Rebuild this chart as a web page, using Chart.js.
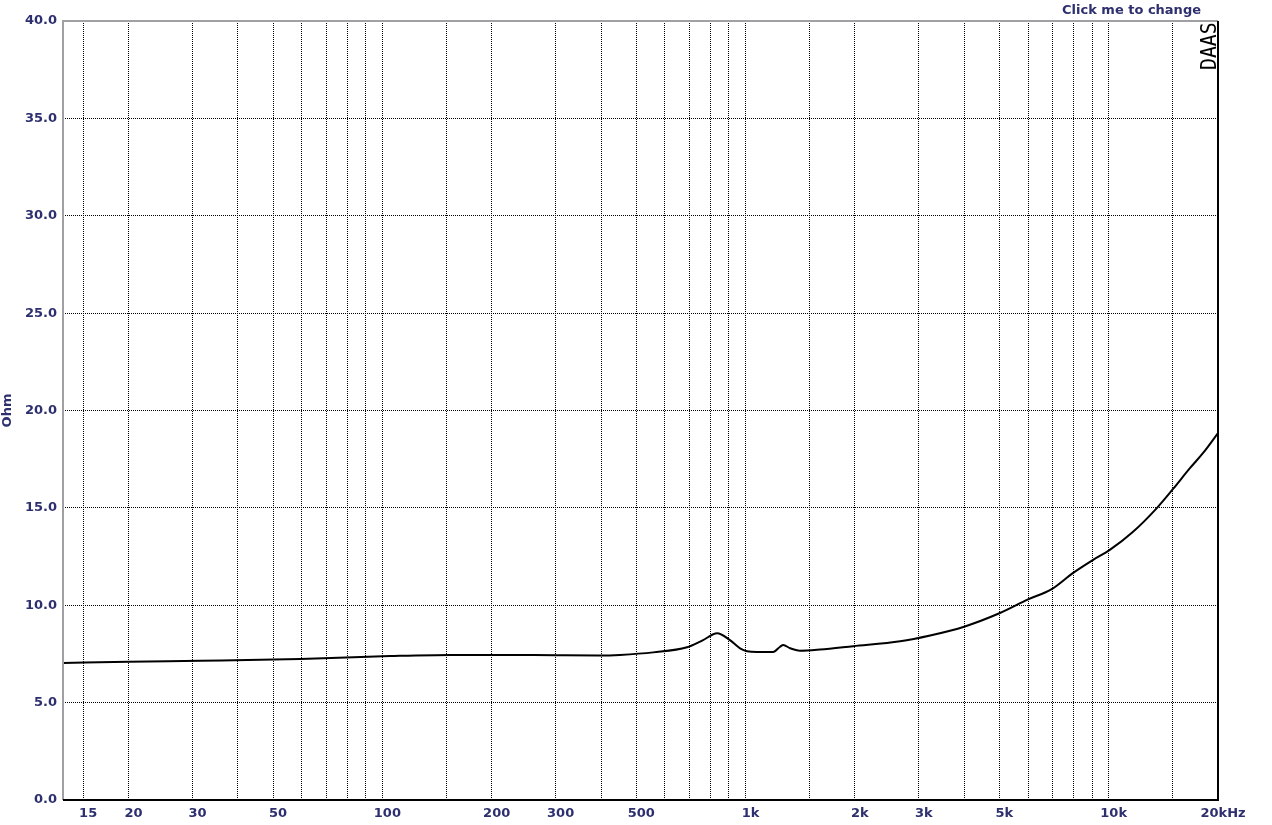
<!DOCTYPE html>
<html>
<head>
<meta charset="utf-8">
<script src="https://cdn.jsdelivr.net/npm/chart.js@4"></script>
<style>
  html, body { margin: 0; padding: 0; background: #fff; }
  #wrap { width: 1272px; height: 825px; }
</style>
</head>
<body>
<div id="wrap"><canvas id="impChart" width="1272" height="825"></canvas></div>
<script>
// impedance curve (Hz / Ohm)
const freqHz = [13.2, 20, 31.5, 59.4, 105, 154, 211, 300, 397, 451, 557, 690, 764, 835, 906, 966, 1010, 1076, 1191, 1245, 1270, 1327, 1412, 1604, 1978, 2667, 3224, 4000, 5020, 6000, 6970, 7965, 9040, 10070, 11650, 13570, 15040, 16760, 18200, 20000];
const ohms = [7.03, 7.10, 7.15, 7.24, 7.39, 7.45, 7.45, 7.43, 7.42, 7.45, 7.58, 7.84, 8.21, 8.56, 8.21, 7.79, 7.64, 7.60, 7.60, 7.87, 7.96, 7.79, 7.67, 7.73, 7.90, 8.15, 8.45, 8.90, 9.60, 10.30, 10.83, 11.65, 12.32, 12.84, 13.76, 14.99, 15.97, 17.05, 17.82, 18.84];

// frequency grid lines and the ones that get a label
const gridFreqs = [15, 20, 30, 40, 50, 60, 70, 80, 90, 100, 150, 200, 300, 400, 500, 600, 700, 800, 900,
    1000, 1500, 2000, 3000, 4000, 5000, 6000, 7000, 8000, 9000, 10000, 15000, 20000];
const freqLabels = { 15: '15', 20: '20', 30: '30', 50: '50', 100: '100', 200: '200', 300: '300', 500: '500',
    1000: '1k', 2000: '2k', 3000: '3k', 5000: '5k', 10000: '10k', 20000: '20kHz' };

const navy = '#2d2f6e';
const tickFont = { family: 'DejaVu Sans', size: 13, weight: 'bold' };

const frame = {
    id: 'frame',
    afterDraw: function (chart) {
        const c = chart.ctx;
        const a = chart.chartArea;
        c.save();
        // left + top in grey, right + bottom in black
        c.lineWidth = 2;
        c.strokeStyle = '#a0a0a4';
        c.beginPath();
        c.moveTo(a.left, a.bottom);
        c.lineTo(a.left, a.top);
        c.lineTo(a.right, a.top);
        c.stroke();
        c.strokeStyle = '#000';
        c.beginPath();
        c.moveTo(a.right, a.top);
        c.lineTo(a.right, a.bottom);
        c.lineTo(a.left, a.bottom);
        c.stroke();

        c.fillStyle = navy;
        c.font = 'bold 13px "DejaVu Sans"';
        c.textAlign = 'right';
        c.textBaseline = 'middle';
        c.fillText('Click me to change', 1201, 11);

        c.fillStyle = '#000';
        c.translate(a.right - 2, 70);
        c.rotate(-Math.PI / 2);
        c.scale(0.9, 1);
        c.font = '22px "DejaVu Sans Mono"';
        c.textAlign = 'left';
        c.textBaseline = 'alphabetic';
        c.fillText('DAAS', 0, 0);
        c.restore();
    }
};

new Chart(document.getElementById('impChart'), {
    type: 'line',
    data: {
        datasets: [{
            data: freqHz.map(function (f, i) { return { x: f, y: ohms[i] }; }),
            borderColor: '#000',
            borderWidth: 2,
            pointRadius: 0,
            fill: false,
            cubicInterpolationMode: 'monotone'
        }]
    },
    options: {
        responsive: false,
        animation: false,
        layout: { padding: { top: 21, right: 54, left: 0, bottom: 0 } },
        plugins: { legend: { display: false }, tooltip: { enabled: false } },
        scales: {
            x: {
                type: 'logarithmic',
                min: 13.2,
                max: 20000,
                afterBuildTicks: function (scale) {
                    scale.ticks = gridFreqs.map(function (v) { return { value: v }; });
                },
                afterFit: function (scale) { scale.height = 25; },
                ticks: {
                    autoSkip: false,
                    maxRotation: 0,
                    padding: 6,
                    labelOffset: 5,
                    color: navy,
                    font: tickFont,
                    callback: function (value) { return freqLabels[value] || ''; }
                },
                grid: { color: '#000', lineWidth: 1, drawTicks: false },
                border: { display: false, dash: [1, 1] }
            },
            y: {
                min: 0,
                max: 40,
                afterFit: function (scale) { scale.width = 63; },
                ticks: {
                    stepSize: 5,
                    padding: 6,
                    color: navy,
                    font: tickFont,
                    callback: function (value) { return Number(value).toFixed(1); }
                },
                title: { display: true, text: 'Ohm', color: navy, font: tickFont, padding: 0 },
                grid: { color: '#000', lineWidth: 1, drawTicks: false },
                border: { display: false, dash: [1, 1] }
            }
        }
    },
    plugins: [frame]
});
</script>
</body>
</html>
